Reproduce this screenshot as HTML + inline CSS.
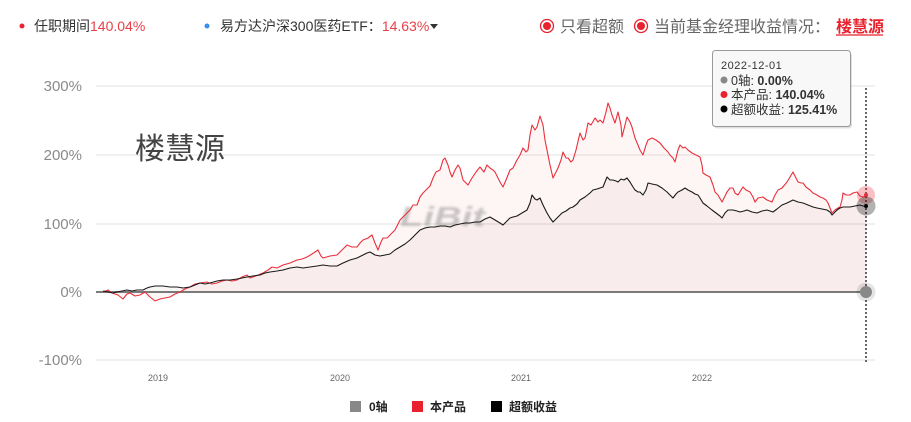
<!DOCTYPE html>
<html><head><meta charset="utf-8">
<style>
html,body{margin:0;padding:0;background:#fff;}
body{width:911px;height:422px;overflow:hidden;position:relative;font-family:"Liberation Sans","Noto Sans CJK SC",sans-serif;}
.t{position:absolute;white-space:nowrap;}
</style></head><body>
<svg width="911" height="422" viewBox="0 0 911 422" style="position:absolute;left:0;top:0" font-family="Liberation Sans, Noto Sans CJK SC, sans-serif">
<!-- header -->
<circle cx="22" cy="26" r="2.5" fill="#e8222e"/>
<text x="34" y="31" font-size="14" fill="#333">任职期间<tspan fill="#e8404a">140.04%</tspan></text>
<circle cx="207" cy="26" r="2.5" fill="#3a8ee6"/>
<text x="220" y="31" font-size="14" fill="#333">易方达沪深300医药ETF：<tspan fill="#e8404a">14.63%</tspan></text>
<path d="M430 24 L438 24 L434 29 Z" fill="#333"/>
<circle cx="547" cy="26" r="6.5" fill="#fff" stroke="#e8222e" stroke-width="1.3"/>
<circle cx="547" cy="26" r="4" fill="#e8222e"/>
<text x="560" y="32" font-size="16" fill="#666">只看超额</text>
<circle cx="641" cy="26" r="6.5" fill="#fff" stroke="#e8222e" stroke-width="1.3"/>
<circle cx="641" cy="26" r="4" fill="#e8222e"/>
<text x="654" y="32" font-size="16" fill="#666">当前基金经理收益情况：</text>
<text x="836" y="32" font-size="16" fill="#e8222e" font-weight="bold">楼慧源</text>
<line x1="836" y1="35" x2="883" y2="35" stroke="#e8222e" stroke-width="1.2"/>

<!-- grid -->
<g stroke="#e2e2e2" stroke-width="1">
<line x1="96" y1="86" x2="875" y2="86"/>
<line x1="96" y1="155" x2="875" y2="155"/>
<line x1="96" y1="224" x2="875" y2="224"/>
<line x1="96" y1="360" x2="875" y2="360"/>
</g>
<g font-size="15" fill="#8a8a8a" text-anchor="end">
<text x="82" y="91">300%</text>
<text x="82" y="160">200%</text>
<text x="82" y="229">100%</text>
<text x="82" y="297">0%</text>
<text x="82" y="365">-100%</text>
</g>
<g font-size="9" fill="#666" text-anchor="middle">
<text x="158" y="381">2019</text>
<text x="340" y="381">2020</text>
<text x="521" y="381">2021</text>
<text x="702" y="381">2022</text>
</g>

<!-- watermark -->
<text x="135" y="159" font-size="30" fill="#444">楼慧源</text>

<!-- fills -->
<polygon fill="#e02020" fill-opacity="0.045" points="103,292 108,290 112,293 118,295 123,299 127,294 130,293 135,296 140,295 145,292 150,297 155,301 160,299 165,298 170,297 175,294 180,292 185,289 190,287 195,284 200,283 207,282 212,284 217,283 222,281 227,280 232,281 237,280 242,277 247,275 250,278 253,277 258,275 263,273 268,270 272,267 277,268 283,265 290,263 297,260 302,259 307,257 312,254 318,250 321,256 323,258 330,256 337,255 342,250 347,245 352,247 357,247 360,243 363,240 368,238 372,235 375,243 378,250 381,242 383,238 387,238 390,235 395,230 400,220 405,215 410,210 413,205 417,205 420,197 423,193 426,190 430,186 433,178 436,172 440,170 443,160 445,158 448,165 450,172 452,177 455,170 458,165 460,168 463,180 466,183 468,185 472,178 476,172 480,167 484,172 487,165 490,168 493,170 495,172 498,178 500,182 503,187 506,180 510,170 513,168 517,160 520,155 523,148 526,152 528,150 530,135 532,125 535,130 537,127 540,116 543,125 545,140 548,155 550,165 553,178 556,172 558,168 561,160 563,152 566,158 568,158 571,162 573,160 576,150 580,133 583,140 585,138 588,123 591,125 595,118 598,122 600,120 603,123 606,112 608,103 610,108 612,115 615,123 618,112 621,125 622,137 625,125 627,117 630,122 632,127 635,138 638,145 640,150 643,155 646,145 648,140 652,138 656,140 660,143 664,148 668,152 670,155 673,158 675,162 678,150 680,145 683,148 685,147 688,150 692,153 696,155 700,157 702,165 703,173 706,175 710,177 713,185 715,192 718,195 722,202 725,196 727,192 730,188 733,188 735,193 738,195 741,190 743,187 746,190 750,192 753,197 755,202 758,198 763,197 767,200 772,202 775,195 778,190 782,188 787,182 790,177 793,172 796,178 798,182 801,183 803,183 806,187 810,190 813,193 817,195 820,197 823,198 826,200 828,203 830,208 832,213 835,210 838,208 840,207 842,200 843,193 846,195 850,195 853,193 857,192 860,196 863,197 866,196 866,292 103,292"/>
<polygon fill="#703030" fill-opacity="0.045" points="103,291 108,292 113,293 117,292 122,291 127,290 132,291 137,290 143,290 147,288 150,287 155,286 160,286 163,286 170,287 177,287 183,288 190,287 195,285 200,283 205,284 210,283 217,281 223,280 230,280 237,279 242,278 247,277 253,276 260,275 265,273 270,272 277,271 283,270 290,268 297,267 303,268 310,267 317,266 323,265 330,266 337,266 343,263 350,260 357,258 363,255 367,253 370,252 375,255 380,256 385,255 390,254 395,250 400,247 405,244 410,240 413,237 417,233 420,230 425,228 430,227 435,227 440,226 445,226 450,227 455,225 460,224 465,223 470,223 475,222 480,222 485,219 490,217 495,220 500,223 503,225 507,221 510,218 513,217 517,216 522,213 527,210 530,203 532,195 535,199 537,200 540,198 543,205 547,213 550,218 553,222 556,219 559,216 562,213 566,211 570,208 573,207 577,204 580,200 585,197 590,193 593,190 597,189 600,188 603,187 605,182 607,177 610,180 613,180 616,181 618,182 621,179 624,180 627,178 630,182 633,187 635,190 638,192 640,192 643,195 646,190 648,183 652,184 657,185 662,188 667,192 670,195 673,198 676,194 678,192 682,190 685,188 688,190 692,192 695,194 698,195 700,198 703,203 707,206 712,210 716,213 720,216 722,218 725,213 728,210 733,210 737,211 740,212 744,211 747,210 752,212 757,213 762,211 767,210 770,211 773,212 777,209 782,205 787,203 793,200 798,202 803,203 808,205 813,207 817,208 822,209 827,210 830,212 832,215 835,212 837,210 840,208 843,207 847,207 850,207 855,206 860,205 863,206 866,206 866,292 103,292"/>

<!-- blurry logo watermark -->
<g opacity="0.55" style="filter:blur(1.2px)">
<text x="400" y="226" font-size="28" font-style="italic" font-weight="bold" fill="#9a9a9a" textLength="85" lengthAdjust="spacingAndGlyphs">LiBit</text>
</g>

<!-- zero axis -->
<line x1="96" y1="292" x2="866" y2="292" stroke="#7a7a7a" stroke-width="2"/>

<!-- lines -->
<polyline fill="none" stroke="#e8303c" stroke-width="1.1" stroke-linejoin="round" points="103,292 108,290 112,293 118,295 123,299 127,294 130,293 135,296 140,295 145,292 150,297 155,301 160,299 165,298 170,297 175,294 180,292 185,289 190,287 195,284 200,283 207,282 212,284 217,283 222,281 227,280 232,281 237,280 242,277 247,275 250,278 253,277 258,275 263,273 268,270 272,267 277,268 283,265 290,263 297,260 302,259 307,257 312,254 318,250 321,256 323,258 330,256 337,255 342,250 347,245 352,247 357,247 360,243 363,240 368,238 372,235 375,243 378,250 381,242 383,238 387,238 390,235 395,230 400,220 405,215 410,210 413,205 417,205 420,197 423,193 426,190 430,186 433,178 436,172 440,170 443,160 445,158 448,165 450,172 452,177 455,170 458,165 460,168 463,180 466,183 468,185 472,178 476,172 480,167 484,172 487,165 490,168 493,170 495,172 498,178 500,182 503,187 506,180 510,170 513,168 517,160 520,155 523,148 526,152 528,150 530,135 532,125 535,130 537,127 540,116 543,125 545,140 548,155 550,165 553,178 556,172 558,168 561,160 563,152 566,158 568,158 571,162 573,160 576,150 580,133 583,140 585,138 588,123 591,125 595,118 598,122 600,120 603,123 606,112 608,103 610,108 612,115 615,123 618,112 621,125 622,137 625,125 627,117 630,122 632,127 635,138 638,145 640,150 643,155 646,145 648,140 652,138 656,140 660,143 664,148 668,152 670,155 673,158 675,162 678,150 680,145 683,148 685,147 688,150 692,153 696,155 700,157 702,165 703,173 706,175 710,177 713,185 715,192 718,195 722,202 725,196 727,192 730,188 733,188 735,193 738,195 741,190 743,187 746,190 750,192 753,197 755,202 758,198 763,197 767,200 772,202 775,195 778,190 782,188 787,182 790,177 793,172 796,178 798,182 801,183 803,183 806,187 810,190 813,193 817,195 820,197 823,198 826,200 828,203 830,208 832,213 835,210 838,208 840,207 842,200 843,193 846,195 850,195 853,193 857,192 860,196 863,197 866,196"/>
<polyline fill="none" stroke="#1a1a1a" stroke-width="1.1" stroke-linejoin="round" points="103,291 108,292 113,293 117,292 122,291 127,290 132,291 137,290 143,290 147,288 150,287 155,286 160,286 163,286 170,287 177,287 183,288 190,287 195,285 200,283 205,284 210,283 217,281 223,280 230,280 237,279 242,278 247,277 253,276 260,275 265,273 270,272 277,271 283,270 290,268 297,267 303,268 310,267 317,266 323,265 330,266 337,266 343,263 350,260 357,258 363,255 367,253 370,252 375,255 380,256 385,255 390,254 395,250 400,247 405,244 410,240 413,237 417,233 420,230 425,228 430,227 435,227 440,226 445,226 450,227 455,225 460,224 465,223 470,223 475,222 480,222 485,219 490,217 495,220 500,223 503,225 507,221 510,218 513,217 517,216 522,213 527,210 530,203 532,195 535,199 537,200 540,198 543,205 547,213 550,218 553,222 556,219 559,216 562,213 566,211 570,208 573,207 577,204 580,200 585,197 590,193 593,190 597,189 600,188 603,187 605,182 607,177 610,180 613,180 616,181 618,182 621,179 624,180 627,178 630,182 633,187 635,190 638,192 640,192 643,195 646,190 648,183 652,184 657,185 662,188 667,192 670,195 673,198 676,194 678,192 682,190 685,188 688,190 692,192 695,194 698,195 700,198 703,203 707,206 712,210 716,213 720,216 722,218 725,213 728,210 733,210 737,211 740,212 744,211 747,210 752,212 757,213 762,211 767,210 770,211 773,212 777,209 782,205 787,203 793,200 798,202 803,203 808,205 813,207 817,208 822,209 827,210 830,212 832,215 835,212 837,210 840,208 843,207 847,207 850,207 855,206 860,205 863,206 866,206"/>

<!-- crosshair -->
<line x1="866" y1="88" x2="866" y2="362" stroke="#666" stroke-width="2" stroke-dasharray="2,2"/>
<circle cx="866" cy="195" r="9" fill="#e8303c" fill-opacity="0.3"/>
<circle cx="866" cy="195" r="2" fill="#e8303c"/>
<circle cx="866" cy="206" r="9.5" fill="#000" fill-opacity="0.3"/>
<circle cx="866" cy="206" r="2" fill="#000"/>
<circle cx="866" cy="292" r="9.5" fill="#000" fill-opacity="0.1"/>
<circle cx="866" cy="292" r="6" fill="#888"/>

<!-- tooltip -->
<rect x="713" y="51" width="138" height="76" rx="3" fill="#000" fill-opacity="0.12" transform="translate(1,1.5)"/>
<rect x="712.5" y="50.5" width="138" height="76" rx="3" fill="#f8f8f8" stroke="#999" stroke-width="1"/>
<text x="721" y="69" font-size="11" fill="#333" letter-spacing="0.5">2022-12-01</text>
<circle cx="724" cy="80" r="3.5" fill="#888"/>
<text x="731" y="85" font-size="12.5" fill="#333">0轴: <tspan font-weight="bold">0.00%</tspan></text>
<circle cx="724" cy="94.5" r="3.5" fill="#e8222e"/>
<text x="731" y="99" font-size="12.5" fill="#333">本产品: <tspan font-weight="bold">140.04%</tspan></text>
<circle cx="724" cy="109" r="3.5" fill="#000"/>
<text x="731" y="114" font-size="12.5" fill="#333">超额收益: <tspan font-weight="bold">125.41%</tspan></text>

<!-- legend -->
<rect x="350" y="401" width="11" height="11" fill="#888"/>
<text x="369" y="411" font-size="12" fill="#222" font-weight="bold">0轴</text>
<rect x="412" y="401" width="11" height="11" fill="#e8222e"/>
<text x="430" y="411" font-size="12" fill="#222" font-weight="bold">本产品</text>
<rect x="491" y="401" width="11" height="11" fill="#000"/>
<text x="509" y="411" font-size="12" fill="#222" font-weight="bold">超额收益</text>
</svg>
</body></html>
